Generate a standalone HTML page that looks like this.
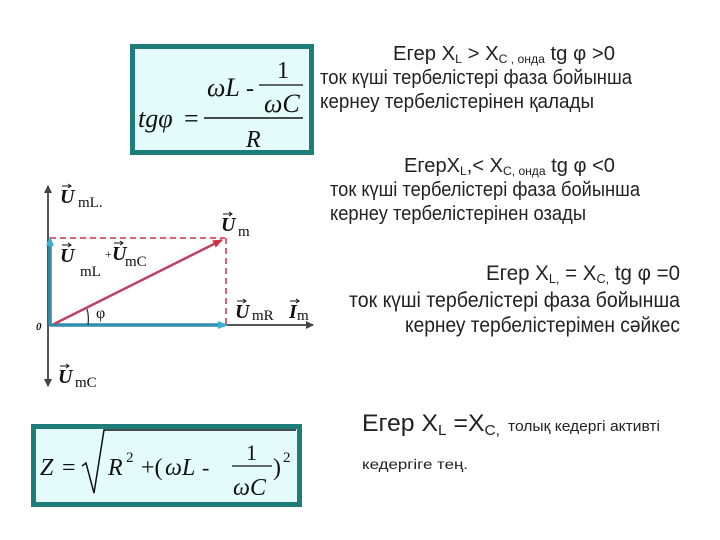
<!DOCTYPE html>
<html><head><meta charset="utf-8"><style>
html,body{margin:0;padding:0;background:#fff;}
svg{display:block;}
.t{font-family:"Liberation Sans",sans-serif;fill:#222;}
.m{font-family:"Liberation Serif",serif;fill:#111;}
</style></head><body>
<svg width="720" height="540" viewBox="0 0 720 540" xmlns="http://www.w3.org/2000/svg">
<rect width="720" height="540" fill="#fff"/>
<rect x="132.5" y="46.5" width="179" height="106" fill="#e4fbfb" stroke="#1e7d78" stroke-width="5"/>
<text class="m" x="138" y="127" font-size="26" font-style="italic">tgφ</text>
<text class="m" x="184" y="127" font-size="26">=</text>
<line x1="204" y1="118" x2="303" y2="118" stroke="#111" stroke-width="1.5"/>
<text class="m" x="207" y="96" font-size="26" font-style="italic">ωL</text>
<text class="m" x="246" y="96" font-size="24">-</text>
<text class="m" x="277" y="78" font-size="24">1</text>
<line x1="259" y1="85" x2="303" y2="85" stroke="#111" stroke-width="1.3"/>
<text class="m" x="264" y="112" font-size="26" font-style="italic">ωC</text>
<text class="m" x="246" y="147" font-size="24" font-style="italic">R</text>

<text class="t" x="393" y="60" font-size="20" textLength="222" lengthAdjust="spacingAndGlyphs">Егер X<tspan font-size="12" dy="3">L</tspan><tspan dy="-3"> &gt; X</tspan><tspan font-size="12" dy="3">C  , онда</tspan><tspan dy="-3"> tg φ &gt;0</tspan></text>
<text class="t" x="320" y="84" font-size="20" textLength="312" lengthAdjust="spacingAndGlyphs">ток күші  тербелістері фаза бойынша</text>
<text class="t" x="320" y="108" font-size="20" textLength="274" lengthAdjust="spacingAndGlyphs">кернеу тербелістерінен  қалады</text>
<text class="t" x="404" y="172" font-size="20" textLength="211" lengthAdjust="spacingAndGlyphs">ЕгерX<tspan font-size="12" dy="3">L</tspan><tspan dy="-3">,&lt; X</tspan><tspan font-size="12" dy="3">C, онда</tspan><tspan dy="-3">  tg  φ &lt;0</tspan></text>
<text class="t" x="330" y="196" font-size="20" textLength="310" lengthAdjust="spacingAndGlyphs">ток  күші тербелістері фаза бойынша</text>
<text class="t" x="330" y="220" font-size="20" textLength="256" lengthAdjust="spacingAndGlyphs">кернеу тербелістерінен  озады</text>
<text class="t" x="486" y="280" font-size="21" textLength="194" lengthAdjust="spacingAndGlyphs">Егер X<tspan font-size="13" dy="3">L,</tspan><tspan dy="-3"> = X</tspan><tspan font-size="13" dy="3">C,</tspan><tspan dy="-3">  tg  φ =0</tspan></text>
<text class="t" x="349" y="307" font-size="21" textLength="331" lengthAdjust="spacingAndGlyphs">ток  күші тербелістері фаза бойынша</text>
<text class="t" x="405" y="332" font-size="21" textLength="275" lengthAdjust="spacingAndGlyphs">кернеу тербелістерімен сәйкес</text>

<defs>
<marker id="ag" markerWidth="8" markerHeight="8" refX="7" refY="4" orient="auto" markerUnits="userSpaceOnUse"><path d="M0,0 L8,4 L0,8 z" fill="#444"/></marker>
<marker id="ar" markerWidth="10" markerHeight="8" refX="9" refY="4" orient="auto" markerUnits="userSpaceOnUse"><path d="M0,0 L10,4 L0,8 z" fill="#d03040"/></marker>
</defs>
<line x1="48" y1="386" x2="48" y2="186" stroke="#555" stroke-width="2" marker-end="url(#ag)"/>
<line x1="48" y1="325" x2="48" y2="386" stroke="#555" stroke-width="2" marker-end="url(#ag)"/>
<line x1="48" y1="325" x2="313" y2="325" stroke="#555" stroke-width="2" marker-end="url(#ag)"/>
<line x1="50" y1="238" x2="225" y2="238" stroke="#d03040" stroke-width="1.5" stroke-dasharray="6,4"/>
<line x1="226" y1="238" x2="226" y2="325" stroke="#d03040" stroke-width="1.5" stroke-dasharray="6,4"/>
<line x1="50" y1="325" x2="50" y2="241" stroke="#2e8fb0" stroke-width="3.5"/>
<line x1="50" y1="325" x2="225" y2="325" stroke="#2e8fb0" stroke-width="3.5"/>
<polygon points="50,236 46,246 54,246" fill="#3ab0d0"/>
<polygon points="228,325 218,321 218,329" fill="#3ab0d0"/>
<line x1="54" y1="324" x2="222" y2="240" stroke="#c04060" stroke-width="2.5" marker-end="url(#ar)"/>
<path d="M88,325 A38,38 0 0 0 87,309" fill="none" stroke="#333" stroke-width="1.3"/>
<text class="m" x="96" y="318" font-size="16">φ</text>
<text class="m" x="36" y="330" font-size="11" font-style="italic" font-weight="bold">0</text>
<g class="m" font-size="20" font-style="italic" font-weight="bold">
<text x="60" y="203">U</text><text x="60" y="262">U</text><text x="112" y="260">U</text>
<text x="221" y="231">U</text><text x="235" y="318">U</text><text x="289" y="318">I</text>
<text x="58" y="383">U</text>
</g>
<g class="m" font-size="15">
<text x="78" y="207">mL.</text><text x="80" y="276">mL</text><text x="105" y="258" font-size="12">+</text>
<text x="125" y="266">mC</text><text x="238" y="236">m</text><text x="252" y="320">mR</text>
<text x="297" y="320">m</text><text x="75" y="387">mC</text>
</g>
<g stroke="#111" stroke-width="1" fill="none">
<path d="M62,186 h9 m-3,-2 l3,2 l-3,2"/><path d="M62,245 h9 m-3,-2 l3,2 l-3,2"/>
<path d="M114,243 h9 m-3,-2 l3,2 l-3,2"/><path d="M223,214 h9 m-3,-2 l3,2 l-3,2"/>
<path d="M237,301 h9 m-3,-2 l3,2 l-3,2"/><path d="M290,301 h9 m-3,-2 l3,2 l-3,2"/>
<path d="M60,366 h9 m-3,-2 l3,2 l-3,2"/>
</g>

<rect x="33.5" y="426.5" width="266" height="78" fill="#e4fbfb" stroke="#1e7d78" stroke-width="5"/>
<text class="m" x="40" y="475" font-size="24" font-style="italic">Z</text>
<text class="m" x="62" y="475" font-size="24">=</text>
<path d="M82,466 l4,-3 l8,30 l10,-63 h192" fill="none" stroke="#111" stroke-width="1.5"/>
<text class="m" x="108" y="475" font-size="24" font-style="italic">R</text>
<text class="m" x="126" y="462" font-size="15">2</text>
<text class="m" x="141" y="475" font-size="24">+(</text>
<text class="m" x="165" y="475" font-size="24" font-style="italic">ωL</text>
<text class="m" x="202" y="475" font-size="22">-</text>
<text class="m" x="246" y="460" font-size="22">1</text>
<line x1="232" y1="466" x2="272" y2="466" stroke="#111" stroke-width="1.3"/>
<text class="m" x="233" y="495" font-size="24" font-style="italic">ωC</text>
<text class="m" x="273" y="475" font-size="24">)</text>
<text class="m" x="283" y="462" font-size="15">2</text>

<text class="t" x="362" y="431" font-size="24" textLength="138" lengthAdjust="spacingAndGlyphs">Егер  X<tspan font-size="15" dy="4">L</tspan><tspan dy="-4"> =X</tspan><tspan font-size="15" dy="4">C,</tspan></text>
<text class="t" x="508" y="431" font-size="15" textLength="152" lengthAdjust="spacingAndGlyphs">толық кедергі активті</text>
<text class="t" x="362" y="469" font-size="14" textLength="106" lengthAdjust="spacingAndGlyphs">кедергіге тең.</text>
</svg>
</body></html>
